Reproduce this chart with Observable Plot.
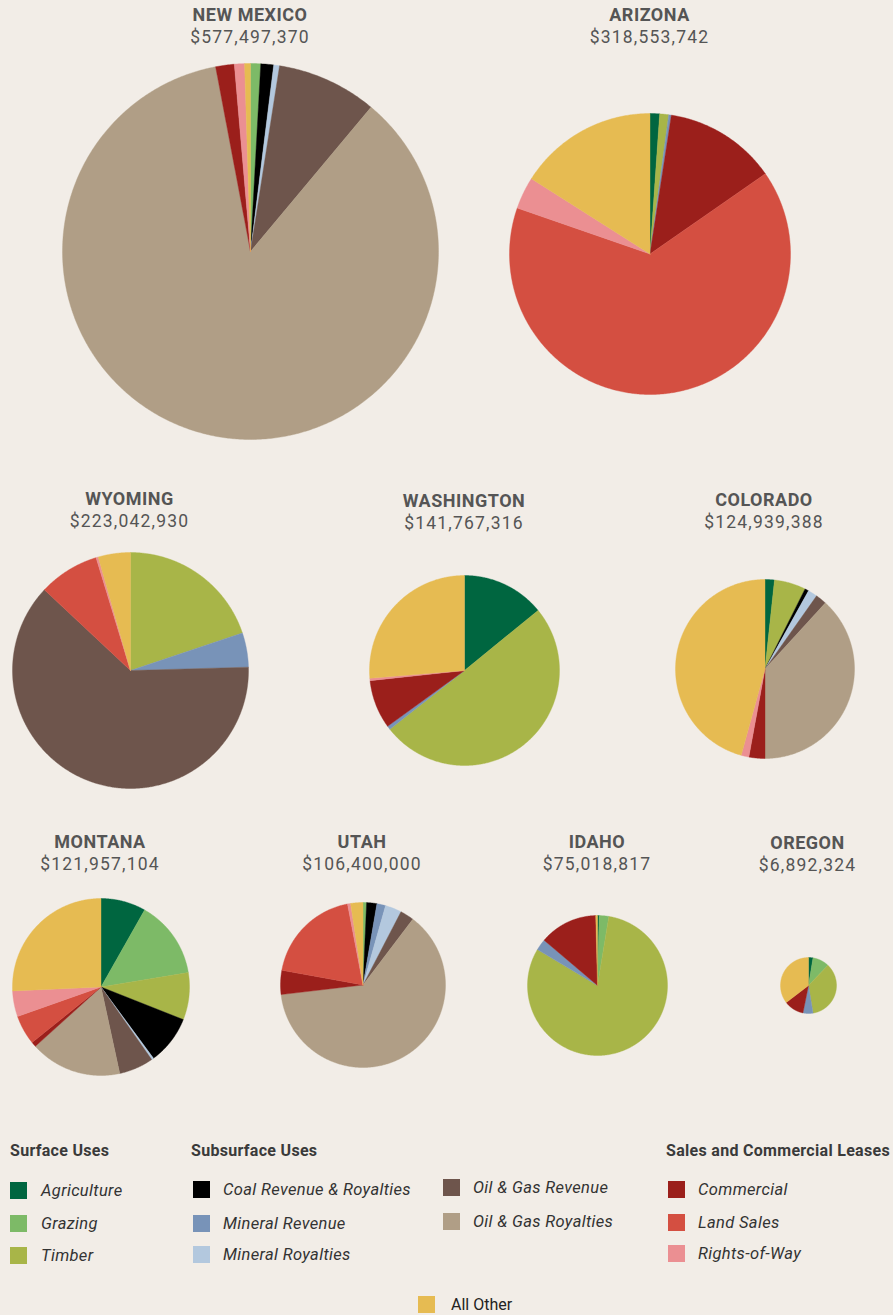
<!DOCTYPE html>
<html>
<head>
<meta charset="utf-8">
<script src="https://cdn.jsdelivr.net/npm/d3@7"></script>
<script src="https://cdn.jsdelivr.net/npm/@observablehq/plot@0.6"></script>
<style>
  html, body { margin: 0; padding: 0; background: #f2ede7; }
  #chart { position: relative; width: 893px; height: 1315px; background: #f2ede7; font-family: Roboto, "Open Sans", sans-serif; overflow: hidden; }
  .pie { position: absolute; }
  .pie svg { display: block; }
  .title { position: absolute; transform: translateX(-50%); text-align: center; color: #555; white-space: nowrap; }
  .name { font-weight: 700; font-size: 18px; letter-spacing: 0.5px; line-height: 22px; }
  .amt { font-size: 17.5px; letter-spacing: 1.2px; line-height: 22px; }
  .head { position: absolute; font-weight: 700; font-size: 16px; color: #3a3a3a; line-height: 20px; letter-spacing: 0.3px; white-space: nowrap; }
  .sw { position: absolute; width: 17px; height: 17px; }
  .lab { position: absolute; font-style: italic; font-size: 16.5px; letter-spacing: 0.35px; color: #333; line-height: 23px; white-space: nowrap; }
  .lab.plain { font-style: normal; font-size: 16px; letter-spacing: 0; color: #222; }
</style>
</head>
<body>
<div id="chart"></div>
<script>
// ---------------- DATA ----------------
const categories = [
  "Agriculture", "Grazing", "Timber",
  "Coal Revenue & Royalties", "Mineral Revenue", "Mineral Royalties",
  "Oil & Gas Revenue", "Oil & Gas Royalties",
  "Commercial", "Land Sales", "Rights-of-Way", "All Other"
];
const categoryColors = [
  "#006640", "#7dba67", "#a8b548",
  "#000000", "#7893b8", "#b3c8de",
  "#6e554c", "#b09e86",
  "#9b1f1b", "#d44f41", "#eb8f92", "#e6bb52"
];
const states = ["NEW MEXICO", "ARIZONA", "WYOMING", "WASHINGTON", "COLORADO", "MONTANA", "UTAH", "IDAHO", "OREGON"];
const totals = [577497370, 318553742, 223042930, 141767316, 124939388, 121957104, 106400000, 75018817, 6892324];
// share of each state's total (%) by category, in the order of `categories`
const newMexico  = [0,   0.87, 0,    1.1, 0,   0.5, 8.6,  85.9, 1.6,  0,    0.87, 0.5];
const arizona    = [1.1, 0,    1.03, 0,   0.3, 0,   0,    0,    12.9, 65.0, 3.7,  16.0];
const wyoming    = [0,   0,    19.8, 0,   4.7, 0,   62.3, 0,    0,    8.3,  0.3,  4.4];
const washington = [14.1,0,    50.3, 0,   0.6, 0,   0,    0,    8.3,  0,    0.4,  26.3];
const colorado   = [1.7, 0,    5.7,  0.7, 0,   1.7, 2.0,  38.3, 2.9,  0,    1.4,  45.8];
const montana    = [8.2, 14.2, 8.6,  8.9, 0,   0.4, 6.3,  16.7, 0.9,  5.4,  4.7,  25.7];
const utah       = [0,   0.7,  0,    2.0, 1.7, 3.2, 2.7,  62.7, 4.7,  19.1, 0.6,  2.4];
const idaho      = [0.4, 2.2,  80.9, 0,   2.6, 0,   0,    0,    13.4, 0,    0,    0.4];
const oregon     = [2.6, 9.6,  35.2, 0,   5.8, 0,   0,    0,    11.4, 0,    0,    35.4];
const shares = [newMexico, arizona, wyoming, washington, colorado, montana, utah, idaho, oregon];

const legendGroups = ["Surface Uses", "Subsurface Uses", "Sales and Commercial Leases"];

// ---------------- LAYOUT ----------------
// pie centres and title tops (pixels in the 893x1315 page)
const layout = [
  {cx: 250,   cy: 251,   ty: 4},
  {cx: 649.5, cy: 253,   ty: 4},
  {cx: 129.5, cy: 670,   ty: 488},
  {cx: 464,   cy: 670,   ty: 490},
  {cx: 764,   cy: 668,   ty: 489},
  {cx: 100,   cy: 986,   ty: 831},
  {cx: 362,   cy: 984,   ty: 831},
  {cx: 597,   cy: 985,   ty: 831},
  {cx: 807.5, cy: 984.5, ty: 832}
];
// radius grows with the square root of the total, with a minimum size
const radius = v => Math.max(28, 3.5 + 7.677 * Math.sqrt(v / 1e6));

const chart = document.getElementById("chart");
const fmt = d3.format("$,");

states.forEach((name, s) => {
  const L = layout[s];
  const r = radius(totals[s]);
  const vals = shares[s];
  const sum = d3.sum(vals);
  const pts = [];
  let a0 = 0;
  categories.forEach((c, i) => {
    const v = vals[i];
    if (!v) return;
    const a1 = a0 + v / sum * 2 * Math.PI;
    const n = Math.max(2, Math.ceil((a1 - a0) / (Math.PI / 360)));
    pts.push({cat: c, x: 0, y: 0});
    for (let k = 0; k <= n; k++) {
      const a = a0 + (a1 - a0) * k / n;
      pts.push({cat: c, x: Math.sin(a), y: Math.cos(a)});
    }
    pts.push({cat: c, x: 0, y: 0});
    a0 = a1;
  });
  const size = Math.round(2 * r + 2);
  const plot = Plot.plot({
    width: size, height: size, margin: 1,
    style: {background: "transparent", overflow: "visible"},
    x: {domain: [-1, 1], axis: null},
    y: {domain: [-1, 1], axis: null},
    color: {domain: categories, range: categoryColors},
    marks: [
      Plot.line(pts, {x: "x", y: "y", z: "cat", fill: "cat", stroke: "cat", strokeWidth: 0.4, curve: "linear"})
    ]
  });
  const wrap = document.createElement("div");
  wrap.className = "pie";
  wrap.style.left = (L.cx - size / 2) + "px";
  wrap.style.top = (L.cy - size / 2) + "px";
  wrap.appendChild(plot);
  chart.appendChild(wrap);

  const t = document.createElement("div");
  t.className = "title";
  t.style.left = L.cx + "px";
  t.style.top = L.ty + "px";
  t.innerHTML = `<div class="name"></div><div class="amt"></div>`;
  t.querySelector(".name").textContent = name;
  t.querySelector(".amt").textContent = fmt(totals[s]);
  chart.appendChild(t);
});

// ---------------- LEGEND ----------------
const headPos = [{x: 10, y: 1141}, {x: 191, y: 1141}, {x: 666, y: 1141}];
legendGroups.forEach((g, i) => {
  const h = document.createElement("div");
  h.className = "head";
  h.style.left = headPos[i].x + "px";
  h.style.top = headPos[i].y + "px";
  h.textContent = g;
  chart.appendChild(h);
});
const itemPos = [
  {x: 10, y: 1182, lx: 41}, {x: 10, y: 1215, lx: 41}, {x: 10, y: 1247, lx: 41},
  {x: 193, y: 1181, lx: 223}, {x: 193, y: 1215, lx: 223}, {x: 193, y: 1246, lx: 223},
  {x: 443, y: 1179, lx: 473}, {x: 443, y: 1213, lx: 473},
  {x: 668, y: 1181, lx: 698}, {x: 668, y: 1214, lx: 698}, {x: 668, y: 1245, lx: 698},
  {x: 418, y: 1296, lx: 451, plain: true}
];
categories.forEach((c, i) => {
  const p = itemPos[i];
  const sw = document.createElement("div");
  sw.className = "sw";
  sw.style.left = p.x + "px";
  sw.style.top = p.y + "px";
  sw.style.background = categoryColors[i];
  chart.appendChild(sw);
  const lb = document.createElement("div");
  lb.className = "lab" + (p.plain ? " plain" : "");
  lb.style.left = p.lx + "px";
  lb.style.top = (p.y - 3) + "px";
  lb.textContent = c;
  chart.appendChild(lb);
});
</script>
</body>
</html>
